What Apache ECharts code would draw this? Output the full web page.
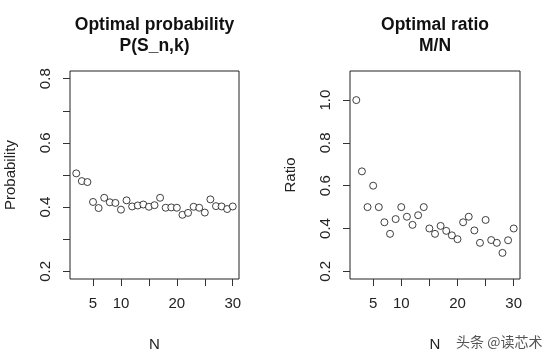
<!DOCTYPE html>
<html>
<head>
<meta charset="utf-8">
<script src="https://cdn.jsdelivr.net/npm/echarts@6/dist/echarts.min.js"></script>
<style>
html,body{margin:0;padding:0;background:#fff;}
#c{width:554px;height:359px;}
</style>
</head>
<body>
<div id="c"></div>
<script>
// Data
const N = [2,3,4,5,6,7,8,9,10,11,12,13,14,15,16,17,18,19,20,21,22,23,24,25,26,27,28,29,30];
const probability = [0.505,0.481,0.478,0.416,0.397,0.429,0.415,0.413,0.392,0.421,0.402,0.405,0.408,0.401,0.406,0.429,0.398,0.399,0.398,0.376,0.382,0.401,0.398,0.383,0.424,0.403,0.402,0.394,0.402];
const ratio = [1.0,0.667,0.5,0.6,0.5,0.429,0.375,0.444,0.5,0.455,0.417,0.462,0.5,0.4,0.375,0.412,0.389,0.368,0.35,0.429,0.455,0.391,0.333,0.44,0.346,0.333,0.286,0.345,0.4];
const xTickValues = [5,10,15,20,25,30];
const xTickLabels = [5,10,20,30];
const probTickValues = [0.2,0.3,0.4,0.5,0.6,0.7,0.8];
const probTickLabels = [0.2,0.4,0.6,0.8];
const ratioTickValues = [0.2,0.4,0.6,0.8,1.0];

const FONT = 'Liberation Sans, Arial, sans-serif';
const TXT = '#222';

function xAxisDef(gi){
  return {
    type:'value', gridIndex:gi, min:0.88, max:31.12,
    splitLine:{show:false},
    axisLine:{show:false},
    axisTick:{show:true, inside:false, length:7, customValues:xTickValues, lineStyle:{color:'#333',width:1}},
    axisLabel:{show:true, customValues:xTickLabels, margin:17, fontSize:15, color:TXT, fontFamily:FONT,
      formatter:v=>String(v)},
    name:'N', nameLocation:'middle', nameGap:58,
    nameTextStyle:{fontSize:15, color:TXT, fontFamily:FONT}
  };
}
function yAxisDef(gi, min, max, ticks, labels, name){
  return {
    type:'value', gridIndex:gi, min:min, max:max,
    splitLine:{show:false},
    axisLine:{show:false},
    axisTick:{show:true, inside:false, length:7, customValues:ticks, lineStyle:{color:'#333',width:1}},
    axisLabel:{show:true, customValues:labels, rotate:90, margin:17, fontSize:15, color:TXT, fontFamily:FONT,
      formatter:v=>v.toFixed(1)},
    name:name, nameLocation:'middle', nameGap:52, nameRotate:90,
    nameTextStyle:{fontSize:15, color:TXT, fontFamily:FONT}
  };
}

const chart = echarts.init(document.getElementById('c'), null, {renderer:'canvas'});
chart.setOption({
  animation:false,
  backgroundColor:'#fff',
  title:[
    {text:'Optimal probability\nP(S_n,k)', left:154.5, top:15, textAlign:'center', padding:0,
     textStyle:{fontSize:17.5, fontWeight:'bold', color:'#111', lineHeight:21, fontFamily:FONT}},
    {text:'Optimal ratio\nM/N', left:435, top:15, textAlign:'center', padding:0,
     textStyle:{fontSize:17.5, fontWeight:'bold', color:'#111', lineHeight:21, fontFamily:FONT}}
  ],
  grid:[
    {left:70, top:71, width:169, height:208, show:true, borderColor:'#222', borderWidth:1, backgroundColor:'transparent'},
    {left:350, top:71, width:170, height:208, show:true, borderColor:'#222', borderWidth:1, backgroundColor:'transparent'}
  ],
  xAxis:[xAxisDef(0), xAxisDef(1)],
  yAxis:[
    yAxisDef(0, 0.176, 0.824, probTickValues, probTickLabels, 'Probability'),
    yAxisDef(1, 0.164, 1.136, ratioTickValues, ratioTickValues, 'Ratio')
  ],
  series:[
    {type:'scatter', xAxisIndex:0, yAxisIndex:0, data:N.map((n,i)=>[n,probability[i]]),
     symbol:'circle', symbolSize:7, itemStyle:{color:'#fff', borderColor:'#111', borderWidth:1}},
    {type:'scatter', xAxisIndex:1, yAxisIndex:1, data:N.map((n,i)=>[n,ratio[i]]),
     symbol:'circle', symbolSize:7, itemStyle:{color:'#fff', borderColor:'#111', borderWidth:1}}
  ],
  graphic:[
    {type:'text', left:456, top:335, style:{text:'头条 @读芯术', fontSize:14, fill:'#555', fontFamily:'Noto Sans CJK SC'}}
  ]
});
</script>
</body>
</html>
